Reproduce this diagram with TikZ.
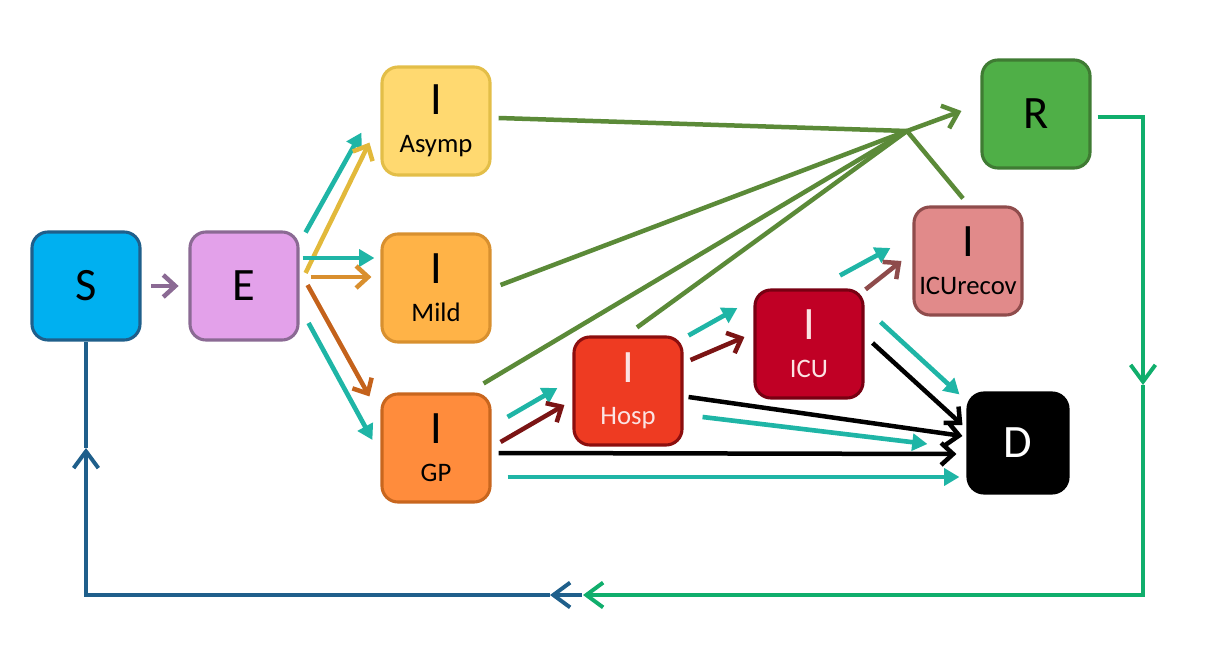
\documentclass[tikz,border=0pt]{standalone}
\usepackage{fontspec}
\setmainfont{Carlito}
\usetikzlibrary{arrows.meta}

\definecolor{sfill}{HTML}{00B0F0}
\definecolor{sbord}{HTML}{1F5F8B}
\definecolor{efill}{HTML}{E3A1EA}
\definecolor{ebord}{HTML}{8B6A94}
\definecolor{asfill}{HTML}{FFD970}
\definecolor{asbord}{HTML}{E3BE48}
\definecolor{mifill}{HTML}{FFB347}
\definecolor{mibord}{HTML}{D8902F}
\definecolor{gpfill}{HTML}{FF8C3C}
\definecolor{gpbord}{HTML}{C8661E}
\definecolor{hofill}{HTML}{EE3B22}
\definecolor{hobord}{HTML}{8C0E0E}
\definecolor{icfill}{HTML}{C00025}
\definecolor{icbord}{HTML}{780012}
\definecolor{irfill}{HTML}{E18A8A}
\definecolor{irbord}{HTML}{8F4C4C}
\definecolor{rfill}{HTML}{4FAF47}
\definecolor{rbord}{HTML}{3F7B33}
\definecolor{testteal}{HTML}{1FB5A6}
\definecolor{recgreen}{HTML}{5B8A38}
\definecolor{loopgreen}{HTML}{10AE6C}
\definecolor{yellowarr}{HTML}{E2B93B}
\definecolor{orangearr}{HTML}{D98F2E}
\definecolor{brownarr}{HTML}{C4621B}
\definecolor{darkredarr}{HTML}{7B1414}
\definecolor{rosearr}{HTML}{8E4B4B}
\definecolor{paletext}{HTML}{FBE3E3}

\tikzstyle{comp}=[
	rectangle,
	rounded corners=0.4cm,
	minimum size=2.7cm,
	line width=2.2pt,
	text=black,
	align=center,
	font=\fontsize{19}{27}\selectfont
	]
\newcommand{\lettr}[1]{{\fontsize{33}{33}\selectfont #1}}
\tikzset{
	flow/.style={line width=3.2pt, -{Straight Barb[length=0.3cm, width=0.55cm]}},
	test/.style={line width=3.3pt, testteal, -{Triangle[length=0.38cm, width=0.42cm]}},
	rec/.style={line width=3.2pt, recgreen},
	loopline/.style={line width=2.8pt},
	looptip/.style={-{Straight Barb[length=0.42cm, width=0.62cm]}}
}

\begin{document}
\begin{tikzpicture}[x=0.025cm, y=-0.025cm]
	\useasboundingbox (0,0) rectangle (1210,648);

	% compartments
	\node (S) [comp, fill=sfill, draw=sbord] at (86,286) {\lettr{S}};
	\node (E) [comp, fill=efill, draw=ebord] at (244,286) {\lettr{E}};
	\node (Asymp) [comp, fill=asfill, draw=asbord] at (436,121) {\lettr{I}\\Asymp};
	\node (Mild) [comp, fill=mifill, draw=mibord] at (436,288) {\lettr{I}\\Mild};
	\node (GP) [comp, fill=gpfill, draw=gpbord] at (436,448) {\lettr{I}\\GP};
	\node (Hosp) [comp, fill=hofill, draw=hobord, text=paletext] at (628,391) {\lettr{I}\\[3pt]Hosp};
	\node (ICU) [comp, fill=icfill, draw=icbord, text=paletext] at (809,344) {\lettr{I}\\ICU};
	\node (ICUrecov) [comp, fill=irfill, draw=irbord] at (968,261) {\lettr{I}\\ICUrecov};
	\node (R) [comp, fill=rfill, draw=rbord] at (1036,114) {\lettr{R}};
	\node (D) [comp, fill=black, draw=black, text=white, minimum size=2.5cm] at (1018,443) {\lettr{D}};

	\coordinate (hub) at (907,131);
	\coordinate (downR) at (1143,385);
	\coordinate (meet) at (583,595);
	\coordinate (bluestart) at (582,595);
	\coordinate (blueleft) at (550,595);
	\coordinate (upS) at (86,448);

	% S and E
	\draw[flow, ebord] ([xshift=7]S.east) -- ([xshift=-7]E.west);
	\draw[test] ([shift={(6,2)}]E.north east) -- ([shift={(-19,-44)}]Asymp.south west);
	\draw[flow, yellowarr] ([shift={(6,-13)}]E.east) -- ([shift={(-11,-34)}]Asymp.south west);
	\draw[test] ([shift={(3,-28)}]E.east) -- ([shift={(-6,-30)}]Mild.west);
	\draw[flow, orangearr] ([shift={(11,-9)}]E.east) -- ([shift={(-9,-11)}]Mild.west);
	\draw[flow, brownarr] ([shift={(8,-1)}]E.east) -- ([shift={(-11,4)}]GP.north west);
	\draw[test] ([shift={(9,37)}]E.east) -- ([shift={(-8,-8)}]GP.west);

	% hospital path
	\draw[test] ([shift={(16,-31)}]GP.east) -- ([shift={(-15,-3)}]Hosp.west);
	\draw[flow, darkredarr] ([shift={(9,-6)}]GP.east) -- ([shift={(-8,14)}]Hosp.west);
	\draw[test] ([shift={(5,0)}]Hosp.north east) -- ([shift={(-16,-36)}]ICU.west);
	\draw[flow, darkredarr] ([shift={(7,-31)}]Hosp.east) -- ([shift={(-9,-7)}]ICU.west);
	\draw[test] ([shift={(31,-13)}]ICU.north) -- ([shift={(-22,-13)}]ICUrecov.west);
	\draw[flow, rosearr] ([shift={(1,1)}]ICU.north east) -- ([shift={(-11,0)}]ICUrecov.west);

	% deaths
	\draw[test] ([shift={(16,-22)}]ICU.east) -- ([shift={(-7,3)}]D.north west);
	\draw[flow, black] ([shift={(8,-1)}]ICU.east) -- ([shift={(-4,-18)}]D.west);
	\draw[flow, black] ([shift={(5,6)}]Hosp.east) -- ([shift={(-4,-7)}]D.west);
	\draw[test] ([shift={(19,26)}]Hosp.east) -- ([shift={(-39,1)}]D.west);
	\draw[flow, black] ([shift={(7,5)}]GP.east) -- ([shift={(-10,11)}]D.west);
	\draw[test] ([shift={(16,29)}]GP.east) -- ([shift={(-7,34)}]D.west);

	% recoveries
	\draw[rec] ([shift={(7,-3)}]Asymp.east) -- (hub);
	\draw[rec] ([shift={(9,-3)}]Mild.east) -- (hub);
	\draw[rec] ([shift={(-8,-9)}]GP.north east) -- (hub);
	\draw[rec] ([shift={(9,-8)}]Hosp.north) -- (hub);
	\draw[rec] ([shift={(-5,-7)}]ICUrecov.north) -- (hub);
	\draw[rec, -{Straight Barb[length=0.35cm, width=0.6cm]}] (hub) -- ([shift={(-19,-3)}]R.west);

	% waning immunity
	\draw[loopline, loopgreen, looptip] ([shift={(6,3)}]R.east) -| (downR);
	\draw[loopline, sbord, looptip] (bluestart) -- (blueleft);
	\draw[loopline, loopgreen, looptip] (downR) |- (meet);
	\draw[loopline, sbord, looptip] (blueleft) -| (upS);
	\draw[loopline, sbord] (upS) -- (S.south);

\end{tikzpicture}
\end{document}
